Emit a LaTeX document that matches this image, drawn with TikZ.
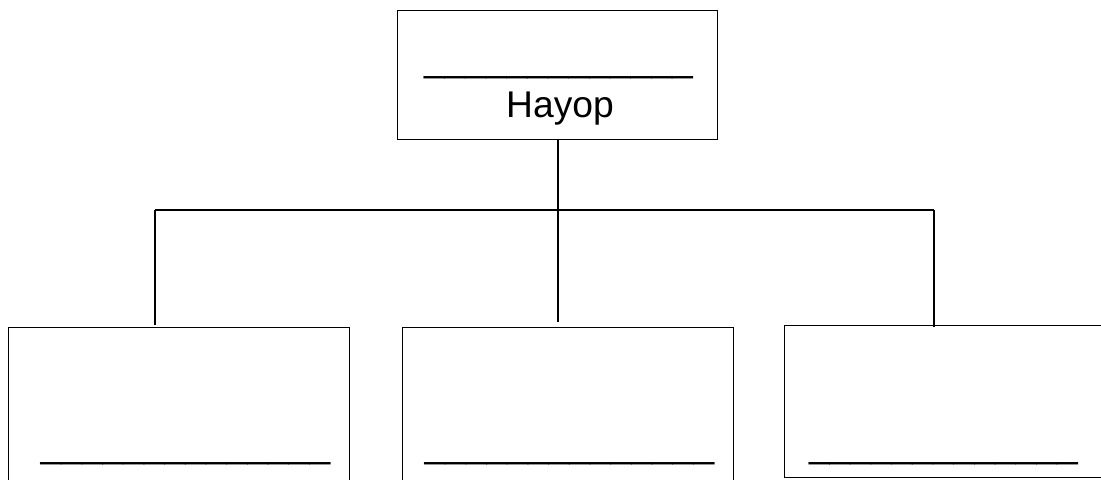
\documentclass[tikz,border=0pt]{standalone}
\usepackage{fontspec}
\setmainfont{Liberation Sans}
\newcommand{\blank}[1]{\foreach \k in {1,...,#1}{\_}}
\begin{document}
\begin{tikzpicture}[x=0.5pt, y=-0.5pt, line width=0.6pt]
\tikzset{box/.style={draw, inner sep=0pt, anchor=north west},
  lbl/.style={anchor=base, inner sep=0pt, font=\fontsize{18.6}{22}\selectfont}}
\clip (0,0) rectangle (1101,479);
\useasboundingbox (0,0) rectangle (1101,479);
%Boxes
\node [box, minimum width=160pt, minimum height=64.5pt] (hayop) at (397,10) {};
\node [box, minimum width=170.5pt, minimum height=90pt] (left) at (8,327) {};
\node [box, minimum width=165.5pt, minimum height=90pt] (mid) at (402,327) {};
\node [box, minimum width=165pt, minimum height=76pt] (right) at (784,325) {};
%Text
\node [lbl] (hayopblank) at (558.5,71) {\blank{13}};
\node [lbl] (hayoptxt) at (560,117) {Hayop};
\node [lbl] (leftblank) at (185.5,457) {\blank{14}};
\node [lbl] (midblank) at (569.5,457) {\blank{14}};
\node [lbl] (rightblank) at (943.5,457) {\blank{13}};
%Lines
\coordinate (bus) at (558,210);
\coordinate (busl) at (155,210);
\coordinate (busr) at (934,210);
\coordinate (endl) at (155,325);
\coordinate (endm) at (558,322);
\coordinate (endr) at (934,327);
\draw (hayop.south -| bus) -- (bus);
\draw (busl) -- (busr);
\draw (busl) -- (endl);
\draw (bus) -- (endm);
\draw (busr) -- (endr);
\end{tikzpicture}
\end{document}
